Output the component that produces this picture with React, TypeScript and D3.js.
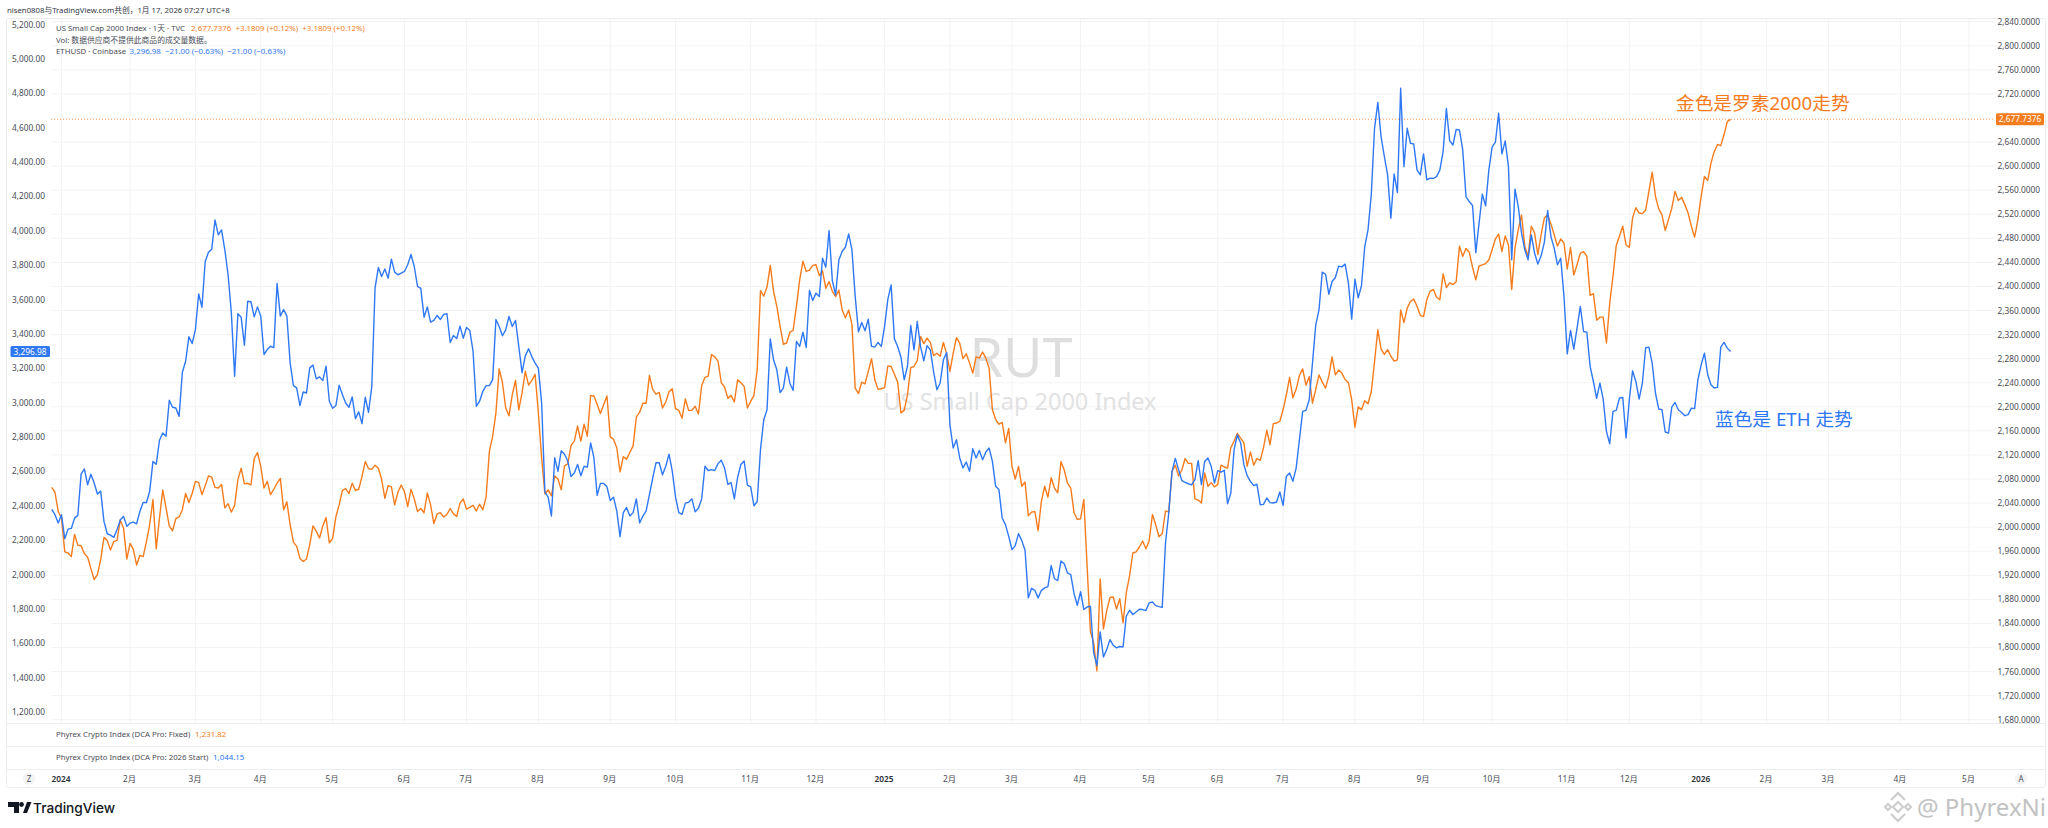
import React from "react";
import * as d3 from "d3";

// daily closes, one per RUT session
const ethValues = [
  2379,2348,2299,2348,2208,2264,2268,2328,2344,2584,
  2614,2522,2583,2532,2468,2485,2309,2237,2229,2216,
  2260,2318,2338,2280,2299,2305,2295,2367,2419,2419,
  2484,2658,2641,2781,2823,2804,3014,2973,2969,2920,
  3177,3241,3383,3344,3425,3633,3555,3821,3875,3893,
  4063,3976,4005,3889,3744,3522,3153,3517,3497,3334,
  3590,3587,3499,3557,3503,3280,3309,3328,3320,3693,
  3503,3542,3503,3231,3099,3086,2983,3062,3056,3202,
  3218,3138,3150,3128,3212,3008,2967,2983,3101,3047,
  2998,2973,3033,2907,2946,2878,3031,2944,3095,3668,
  3786,3734,3777,3724,3835,3759,3744,3753,3763,3802,
  3862,3792,3676,3665,3497,3557,3468,3478,3507,3484,
  3513,3517,3350,3390,3373,3445,3375,3437,3419,3299,
  2979,3008,3066,3099,3099,3134,3484,3443,3389,3423,
  3501,3443,3478,3327,3175,3272,3313,3268,3230,3201,
  2997,2480,2450,2340,2680,2600,2720,2700,2660,2570,
  2590,2640,2575,2630,2625,2765,2680,2460,2530,2530,
  2510,2430,2450,2370,2220,2360,2390,2340,2360,2440,
  2300,2340,2370,2465,2560,2650,2650,2580,2630,2700,
  2600,2450,2360,2350,2415,2420,2440,2365,2385,2440,
  2630,2605,2610,2605,2645,2665,2620,2525,2535,2440,
  2565,2640,2660,2520,2510,2400,2425,2726,2900,2958,
  3371,3249,3191,3059,3084,3206,3113,3071,3356,3327,
  3410,3321,3652,3594,3637,3617,3840,3788,4001,3710,
  3627,3830,3879,3904,3982,3889,3617,3412,3466,3418,
  3485,3327,3323,3350,3327,3443,3602,3685,3371,3327,
  3265,3133,3210,3449,3307,3472,3327,3243,3332,3307,
  3181,3075,3113,3249,3292,2871,2736,2784,2678,2620,
  2654,2600,2732,2678,2722,2668,2713,2736,2658,2513,
  2494,2329,2290,2222,2145,2168,2238,2197,2141,1864,
  1920,1908,1864,1908,1922,1930,2052,1976,1965,2079,
  2063,2009,1999,1889,1821,1900,1796,1811,1815,1545,
  1470,1666,1520,1563,1621,1588,1573,1581,1579,1757,
  1792,1767,1782,1798,1796,1790,1835,1840,1819,1813,
  1809,2183,2358,2600,2676,2610,2546,2536,2528,2521,
  2552,2662,2523,2658,2678,2629,2532,2604,2596,2606,
  2412,2474,2726,2813,2765,2639,2575,2542,2517,2525,
  2406,2408,2445,2418,2416,2422,2480,2402,2571,2590,
  2542,2619,2784,2949,2955,3017,3230,3452,3540,3759,
  3747,3631,3705,3728,3794,3790,3806,3695,3486,3718,
  3610,3680,3908,4005,4209,4596,4747,4548,4432,4325,
  4073,4331,4222,4829,4373,4596,4509,4505,4354,4325,
  4447,4296,4306,4304,4315,4354,4461,4711,4523,4499,
  4590,4586,4470,4199,4170,4147,3873,4044,4212,4145,
  4354,4486,4515,4684,4447,4523,4373,3831,4242,4141,
  3986,3889,3831,3976,3870,3806,3854,3934,4118,3966,
  3899,3802,3840,3618,3284,3420,3311,3434,3560,3414,
  3410,3211,3123,3025,3114,3021,2833,2761,2949,2955,
  3027,3030,2794,3017,3185,3123,3021,3114,3319,3323,
  3230,3056,2963,2959,2829,2823,2974,3001,2959,2943,
  2924,2930,2968,2965,3133,3220,3288,3162,3104,3085,
  3089,3323,3350,3317,3296.98,
];

const rutValues = [
  2066,2058,2026,2015,1959,1957,1951,1988,1970,1969,
  1956,1950,1931,1913,1921,1946,1983,1978,1962,1976,
  1978,2012,1998,1947,1973,1963,1937,1953,1951,1976,
  2004,2046,1964,2015,2062,2032,2002,1994,2014,2017,
  2029,2056,2041,2056,2076,2074,2054,2069,2085,2083,
  2066,2065,2071,2032,2039,2025,2036,2079,2098,2072,
  2073,2070,2114,2124,2101,2065,2076,2054,2063,2073,
  2081,2029,2042,2004,1975,1968,1948,1943,1947,1971,
  2002,1993,1982,2002,2016,1974,1981,2017,2037,2061,
  2064,2056,2073,2061,2063,2084,2109,2097,2096,2103,
  2098,2080,2048,2069,2067,2037,2058,2070,2059,2034,
  2063,2047,2026,2031,2024,2057,2037,2006,2022,2024,
  2017,2021,2031,2022,2018,2040,2047,2030,2033,2036,
  2027,2038,2029,2050,2126,2151,2190,2263,2240,2198,
  2185,2220,2244,2195,2223,2259,2236,2244,2254,2190,
  2115,2055,2062,2052,2085,2080,2062,2102,2105,2136,
  2143,2168,2143,2171,2151,2219,2218,2204,2189,2204,
  2218,2150,2146,2132,2092,2117,2113,2124,2135,2183,
  2191,2206,2206,2252,2229,2221,2224,2198,2208,2225,
  2230,2197,2194,2181,2213,2194,2194,2201,2188,2235,
  2249,2251,2287,2283,2276,2240,2233,2214,2219,2208,
  2245,2240,2234,2198,2209,2219,2262,2393,2384,2399,
  2435,2392,2367,2334,2304,2306,2324,2327,2367,2411,
  2442,2425,2427,2435,2436,2418,2426,2397,2408,2392,
  2383,2394,2361,2348,2361,2337,2231,2222,2241,2238,
  2259,2280,2245,2229,2230,2232,2268,2267,2254,2241,
  2190,2194,2220,2265,2267,2277,2317,2305,2314,2307,
  2285,2289,2284,2307,2288,2259,2289,2315,2306,2280,
  2288,2273,2256,2283,2281,2291,2281,2264,2195,2179,
  2171,2174,2140,2164,2101,2080,2101,2068,2075,2019,
  2025,2026,1994,2043,2068,2050,2082,2065,2057,2109,
  2095,2073,2065,2024,2013,2014,2046,1935,1827,1808,
  1761,1914,1831,1861,1883,1884,1864,1881,1841,1891,
  1919,1957,1959,1967,1977,1964,1977,2021,2004,1984,
  1989,2027,2025,2093,2103,2085,2095,2114,2106,2106,
  2047,2045,2040,2090,2068,2074,2067,2071,2103,2100,
  2098,2132,2143,2156,2148,2140,2101,2125,2103,2114,
  2111,2132,2161,2137,2172,2173,2176,2195,2220,2249,
  2215,2229,2252,2263,2236,2250,2206,2229,2253,2241,
  2231,2251,2283,2253,2261,2256,2245,2240,2212,2166,
  2200,2195,2210,2205,2225,2275,2328,2296,2287,2295,
  2284,2276,2278,2361,2340,2364,2375,2379,2367,2352,
  2350,2378,2392,2395,2382,2378,2421,2398,2406,2403,
  2408,2467,2450,2463,2457,2432,2411,2434,2436,2438,
  2444,2461,2479,2487,2458,2484,2469,2395,2464,2494,
  2519,2467,2450,2500,2489,2453,2486,2514,2519,2504,
  2486,2467,2479,2472,2429,2465,2419,2436,2455,2458,
  2450,2385,2388,2344,2349,2349,2306,2372,2417,2468,
  2484,2500,2469,2465,2514,2531,2522,2521,2527,2558,
  2590,2550,2529,2519,2493,2511,2530,2558,2543,2548,
  2536,2522,2500,2482,2511,2550,2583,2576,2605,2624,
  2636,2634,2652,2674,2677.7376,
];

const monthLabels = [
  "2024","2月","3月","4月","5月","6月","7月","8月","9月","10月","11月","12月",
  "2025","2月","3月","4月","5月","6月","7月","8月","9月","10月","11月","12月",
  "2026","2月","3月","4月","5月",
];
// sessions in each month, the axis skips weekends and holidays
const sessionsPerMonth = [
  21,20,20,22,22,19,22,22,20,23,20,21,
  20,19,21,21,21,20,22,21,21,23,19,22,
  20,19,22,21,
];
const leftTicks = d3.range(1200, 5201, 200);
const rightTicks = d3.range(1680, 2841, 40);

const LAST_RUT = 2677.7376;
const LAST_ETH = 3296.98;
const FIRST_BAR = 3; // 2024-01-02 is the fourth bar on screen

const ORANGE = "#f57c1c";
const BLUE = "#2f78f4";
const TEXT = "#4a4d57";
const GRID = "#f3f3f5";
const BORDER = "#ebecee";
const FONT = '"Noto Sans", "Noto Sans CJK SC", sans-serif';

const monthBars = d3.cumsum(sessionsPerMonth).reduce<number[]>(
  (acc, n) => [...acc, FIRST_BAR + n],
  [FIRST_BAR],
);

const x = d3.scaleLinear().domain([0, monthBars[monthBars.length - 1]]).range([51.7, 1969]);
const yEth = d3.scaleLinear().domain([1200, 5200]).range([712, 24.5]);
const yRut = d3.scaleLinear().domain([1680, 2840]).range([719.7, 21.7]);

const ethLine = d3.line<number>().x((_d, i) => x(i)).y((d) => yEth(d));
const rutLine = d3.line<number>().x((_d, i) => x(i)).y((d) => yRut(d));

const fmtLeft = d3.format(",.2f");
const fmtRight = d3.format(",.4f");

export default function App() {
  return (
    <svg
      width={2048}
      height={828}
      style={{ position: "fixed", left: 0, top: 0, background: "#fff" }}
      fontFamily={FONT}
    >
      <text x={7} y={12.5} fontSize={7.75} fill="#33363f">
        nisen0808与TradingView.com共创，1月 17, 2026 07:27 UTC+8
      </text>

      {/* frame and panes */}
      <rect x={6.5} y={18.5} width={2039} height={769} rx={2} fill="none" stroke={BORDER} />
      {[723, 746, 769].map((y) => (
        <line key={y} x1={6.5} x2={2045.5} y1={y + 0.5} y2={y + 0.5} stroke={BORDER} />
      ))}

      {/* grid */}
      {rightTicks.map((t) => (
        <line key={t} x1={51} x2={1994} y1={yRut(t)} y2={yRut(t)} stroke={GRID} />
      ))}
      {monthBars.map((b) => (
        <line key={b} x1={x(b)} x2={x(b)} y1={19} y2={723} stroke={GRID} />
      ))}

      {/* watermark */}
      <text x={1021} y={377} textAnchor="middle" fontSize={54} fill="#dedede">RUT</text>
      <text x={1020} y={410} textAnchor="middle" fontSize={23.5} fill="#e2e2e2">US Small Cap 2000 Index</text>

      <line
        x1={51}
        x2={1994}
        y1={yRut(LAST_RUT)}
        y2={yRut(LAST_RUT)}
        stroke={ORANGE}
        strokeOpacity={0.7}
        strokeDasharray="1 2"
      />

      <path d={rutLine(rutValues) ?? ""} fill="none" stroke={ORANGE} strokeWidth={1.4} strokeLinejoin="round" />
      <path d={ethLine(ethValues) ?? ""} fill="none" stroke={BLUE} strokeWidth={1.4} strokeLinejoin="round" />

      {/* left axis */}
      {leftTicks.map((t) => (
        <text key={t} x={45} y={yEth(t) + 3} textAnchor="end" fontSize={8.3} fill={TEXT}>
          {fmtLeft(t)}
        </text>
      ))}
      <rect x={10.5} y={yEth(LAST_ETH) - 5.5} width={39.5} height={11} rx={1.5} fill={BLUE} />
      <text x={30} y={yEth(LAST_ETH) + 3} textAnchor="middle" fontSize={8.3} fill="#fff">
        {fmtLeft(LAST_ETH)}
      </text>

      {/* right axis, the last price tag covers the 2,680 label */}
      {rightTicks.filter((t) => t !== 2680).map((t) => (
        <text key={t} x={2040} y={yRut(t) + 3} textAnchor="end" fontSize={8.3} fill={TEXT}>
          {fmtRight(t)}
        </text>
      ))}
      <rect x={1996} y={yRut(LAST_RUT) - 6} width={48} height={12} rx={1.5} fill={ORANGE} />
      <text x={2020} y={yRut(LAST_RUT) + 3} textAnchor="middle" fontSize={8.3} fill="#fff">
        {fmtRight(LAST_RUT)}
      </text>

      {/* legend */}
      <text x={56} y={31} fontSize={7.8} fill={TEXT}>US Small Cap 2000 Index · 1天 · TVC</text>
      <text x={191} y={31} fontSize={7.9} fill={ORANGE} xmlSpace="preserve">
        2,677.7376  +3.1809 (+0.12%)  +3.1809 (+0.12%)
      </text>
      <text x={56} y={42.5} fontSize={7.8} fill={TEXT}>Vol: 数据供应商不提供此商品的成交量数据。</text>
      <text x={56} y={54} fontSize={7.8} fill={TEXT}>ETHUSD · Coinbase</text>
      <text x={129.5} y={54} fontSize={7.9} fill={BLUE} xmlSpace="preserve">
        3,296.98  −21.00 (−0.63%)  −21.00 (−0.63%)
      </text>

      {/* indicator panes */}
      <text x={56} y={737} fontSize={7.8} fill={TEXT}>Phyrex Crypto Index (DCA Pro: Fixed)</text>
      <text x={195} y={737} fontSize={7.9} fill={ORANGE}>1,231.82</text>
      <text x={56} y={760} fontSize={7.8} fill={TEXT}>Phyrex Crypto Index (DCA Pro: 2026 Start)</text>
      <text x={213} y={760} fontSize={7.9} fill={BLUE}>1,044.15</text>

      {/* time axis */}
      {monthBars.map((b, i) => (
        <text
          key={b}
          x={x(b) - 0.5}
          y={781.5}
          textAnchor="middle"
          fontSize={8.3}
          fontWeight={monthLabels[i].length === 4 ? 600 : 400}
          fill={monthLabels[i].length === 4 ? "#2a2d35" : TEXT}
        >
          {monthLabels[i]}
        </text>
      ))}
      <circle cx={29} cy={778.7} r={6} fill="#f2f3f5" />
      <text x={29} y={781.5} textAnchor="middle" fontSize={8} fill={TEXT}>Z</text>
      <circle cx={2021} cy={778.7} r={6} fill="#f2f3f5" />
      <text x={2021} y={781.5} textAnchor="middle" fontSize={8} fill={TEXT}>A</text>

      {/* annotations */}
      <text x={1676} y={110} fontSize={18.7} fill={ORANGE}>金色是罗素2000走势</text>
      <text x={1715} y={426} fontSize={18.7} fill={BLUE}>蓝色是 ETH 走势</text>

      {/* TradingView logo */}
      <g fill="#131722">
        <path d="M8 802h11v11h-5v-6h-6z" />
        <circle cx={21.5} cy={804.5} r={2.4} />
        <path d="M23 813l4-11h-0.5h5l-4.5 11z" />
      </g>
      <text x={33} y={813} fontSize={13.7} fontWeight={500} fill="#131722" fontFamily="Inter, sans-serif">
        TradingView
      </text>

      {/* repost watermark */}
      <g fill="none" stroke="#cccccc" strokeWidth={2}>
        <path d="M1898 802l5 5-5 5-5-5z" />
        <path d="M1891 800l7-7 7 7" />
        <path d="M1891 814l7 7 7-7" />
        <path d="M1885 807l3-3 3 3-3 3z" />
        <path d="M1905 807l3-3 3 3-3 3z" />
      </g>
      <text x={1917} y={816} fontSize={24} fill="#c2c2c2">@ PhyrexNi</text>
    </svg>
  );
}
